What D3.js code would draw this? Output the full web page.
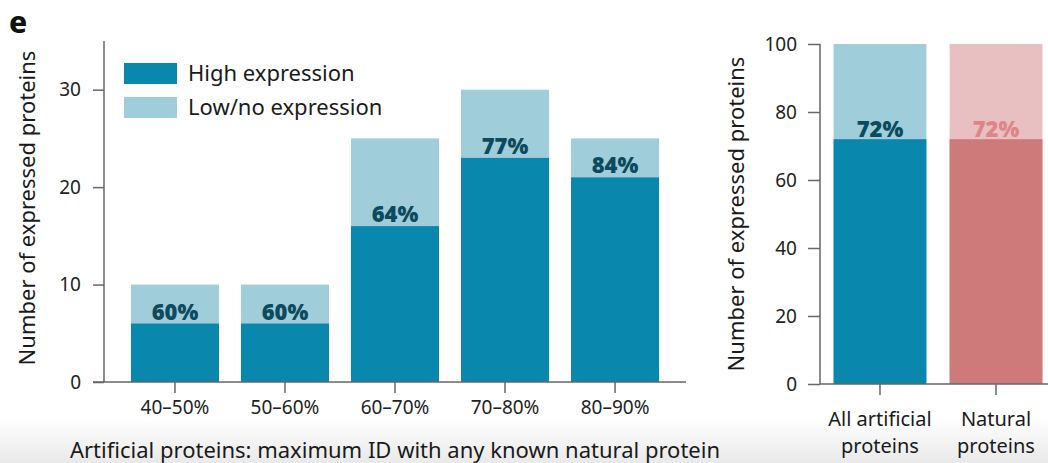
<!DOCTYPE html>
<html><head><meta charset="utf-8">
<script src="https://cdn.jsdelivr.net/npm/d3@7"></script>
<style>body{margin:0;background:#fff}svg{display:block}text{font-family:"Noto Sans",sans-serif}</style>
</head><body><svg id="c" width="1048" height="463"></svg>
<script>
const categories = ["40–50%","50–60%","60–70%","70–80%","80–90%"];
const totalCounts = [10,10,25,30,25];
const highCounts = [6,6,16,23,21];
const pctLabels = ["60%","60%","64%","77%","84%"];
const leftTicks = [0,10,20,30];

const groups = [["All artificial","proteins"],["Natural","proteins"]];
const groupTotal = [100,100];
const groupHigh = [72,72];
const groupPct = ["72%","72%"];
const rightTicks = [0,20,40,60,80,100];

const dark = "#0a87ad", light = "#9fcdd9";
const redDark = "#cf7a7a", redLight = "#e8c0c2";
const labDark = "#0e4a5e", labRed = "#de8687";
const axisCol = "#666";

const svg = d3.select("#c");
const defs = svg.append("defs");
const g = defs.append("linearGradient").attr("id","bg").attr("x1",0).attr("x2",0).attr("y1",0).attr("y2",1);
g.append("stop").attr("offset","0%").attr("stop-color","#ffffff");
g.append("stop").attr("offset","100%").attr("stop-color","#e9e9e9");
svg.append("rect").attr("x",0).attr("y",418).attr("width",1048).attr("height",45).attr("fill","url(#bg)");

svg.append("text").attr("x",9).attr("y",33).attr("font-size",30).attr("font-weight",800).attr("fill","#111").text("e");

// LEFT
const xL = d3.scaleBand().domain(categories).range([104,686]).paddingInner(0.2).paddingOuter(0.245);
const yL = d3.scaleLinear().domain([0,35]).range([382,41]);

const ax = svg.append("g").attr("transform","translate(104,0)").call(d3.axisLeft(yL).tickValues(leftTicks).tickSize(11).tickPadding(12));
ax.select(".domain").attr("stroke",axisCol).attr("stroke-width",1.5).attr("d","M0,41V382");
ax.selectAll(".tick line").attr("stroke",axisCol).attr("stroke-width",1.5);
ax.selectAll(".tick text").attr("font-size",19).attr("fill","#222").attr("font-family","Noto Sans");

const bl = svg.append("g");
bl.selectAll(".t").data(categories).join("rect").attr("x",d=>xL(d)).attr("width",xL.bandwidth())
  .attr("y",(d,i)=>yL(totalCounts[i])).attr("height",(d,i)=>yL(0)-yL(totalCounts[i])).attr("fill",light);
bl.selectAll(".h").data(categories).join("rect").attr("class","h").attr("x",d=>xL(d)).attr("width",xL.bandwidth())
  .attr("y",(d,i)=>yL(highCounts[i])).attr("height",(d,i)=>yL(0)-yL(highCounts[i])).attr("fill",dark);
bl.selectAll(".p").data(categories).join("text").attr("x",d=>xL(d)+xL.bandwidth()/2).attr("y",(d,i)=>yL(highCounts[i])-4)
  .attr("text-anchor","middle").attr("font-size",22).attr("font-weight",900).attr("fill",labDark).attr("font-family","Noto Sans").text((d,i)=>pctLabels[i]);

const bx = svg.append("g").attr("transform","translate(0,382)").call(d3.axisBottom(xL).tickSize(11).tickPadding(8));
bx.select(".domain").attr("stroke",axisCol).attr("stroke-width",1.5).attr("d","M93,0H686");
bx.selectAll(".tick line").attr("stroke",axisCol).attr("stroke-width",1.5);
bx.selectAll(".tick text").attr("font-size",19).attr("fill","#222").attr("font-family","Noto Sans");

svg.append("text").attr("x",395).attr("y",458).attr("text-anchor","middle").attr("font-size",22).attr("fill","#1a1a1a").text("Artificial proteins: maximum ID with any known natural protein");
svg.append("text").attr("transform","translate(35,208) rotate(-90)").attr("text-anchor","middle").attr("font-size",22).attr("fill","#1a1a1a").text("Number of expressed proteins");

// legend
const legend = [["High expression",dark],["Low/no expression",light]];
legend.forEach((l,i)=>{
  svg.append("rect").attr("x",124).attr("y",63+i*34).attr("width",53).attr("height",21).attr("fill",l[1]);
  svg.append("text").attr("x",188).attr("y",81+i*34).attr("font-size",22).attr("fill","#1a1a1a").text(l[0]);
});

// RIGHT
const xR = d3.scaleBand().domain(groups.map(d=>d.join(" "))).range([820,1056]).paddingInner(0.2).paddingOuter(0.117);
const yR = d3.scaleLinear().domain([0,100]).range([384,44]);
const ar = svg.append("g").attr("transform","translate(820,0)").call(d3.axisLeft(yR).tickValues(rightTicks).tickSize(12).tickPadding(11));
ar.select(".domain").attr("stroke",axisCol).attr("stroke-width",1.5).attr("d","M0,44V384");
ar.selectAll(".tick line").attr("stroke",axisCol).attr("stroke-width",1.5);
ar.selectAll(".tick text").attr("font-size",19).attr("fill","#222").attr("font-family","Noto Sans");

const cols = [[light,dark,labDark],[redLight,redDark,labRed]];
const br = svg.append("g");
groups.forEach((gr,i)=>{
  const k = gr.join(" ");
  br.append("rect").attr("x",xR(k)).attr("width",xR.bandwidth()).attr("y",yR(groupTotal[i])).attr("height",yR(0)-yR(groupTotal[i])).attr("fill",cols[i][0]);
  br.append("rect").attr("x",xR(k)).attr("width",xR.bandwidth()).attr("y",yR(groupHigh[i])).attr("height",yR(0)-yR(groupHigh[i])).attr("fill",cols[i][1]);
  br.append("text").attr("x",xR(k)+xR.bandwidth()/2).attr("y",yR(groupHigh[i])-2).attr("text-anchor","middle").attr("font-size",22).attr("font-weight",900).attr("font-family","Noto Sans").attr("fill",cols[i][2]).text(groupPct[i]);
});
const rx = svg.append("g").attr("transform","translate(0,384)").call(d3.axisBottom(xR).tickSize(11).tickFormat(""));
rx.select(".domain").attr("stroke",axisCol).attr("stroke-width",1.5).attr("d","M820,0H1048");
rx.selectAll(".tick line").attr("stroke",axisCol).attr("stroke-width",1.5);
groups.forEach((gr,i)=>{
  const k = gr.join(" ");
  gr.forEach((line,j)=>{
    svg.append("text").attr("x",xR(k)+xR.bandwidth()/2).attr("y",426+j*27).attr("text-anchor","middle").attr("font-size",20).attr("fill","#1a1a1a").text(line);
  });
});
svg.append("text").attr("transform","translate(744,214) rotate(-90)").attr("text-anchor","middle").attr("font-size",22).attr("fill","#1a1a1a").text("Number of expressed proteins");
</script></body></html>
